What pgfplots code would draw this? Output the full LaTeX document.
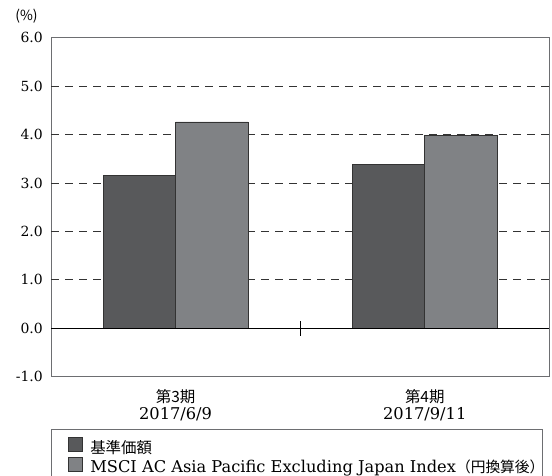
\documentclass[border=0pt]{standalone}
\usepackage{pgfplots}
\pgfplotsset{compat=1.18}
\usepackage{fontspec}
\setmainfont{DejaVu Serif}
\newfontfamily\jp{Noto Sans CJK JP}
\definecolor{darkbar}{HTML}{58595B}
\definecolor{lightbar}{HTML}{808285}
\definecolor{framegray}{HTML}{6D6E71}
\definecolor{edge}{HTML}{333333}
\begin{document}
\begin{tikzpicture}
\begin{axis}[
  clip=false,
  scale only axis, width=498.3bp, height=339bp,
  xmin=-0.5, xmax=1.5, ymin=-1, ymax=6,
  ybar=0pt, bar width=72.4bp,
  axis line style={framegray, line width=0.9bp},
  ytick={-1,0,1,2,3,4,5,6},
  /pgf/number format/fixed, /pgf/number format/fixed zerofill,
  /pgf/number format/precision=1, /pgf/number format/assume math mode=true,
  yticklabel style={font=\fontsize{14}{16}\selectfont, inner xsep=0pt, xshift=-8bp},
  xtick={0,1},
  xticklabels={{{\jp\fontsize{15.5}{17}\selectfont 第3期}\\2017/6/9},{{\jp\fontsize{15.5}{17}\selectfont 第4期}\\2017/9/11}},
  xticklabel style={align=center, font=\fontsize{16.3}{17}\selectfont, yshift=-9bp},
  major tick length=0pt,
  tick style={draw=none},
  extra y ticks={1,2,3,4,5},
  extra y tick labels={},
  extra y tick style={grid=major, major grid style={dash pattern=on 8bp off 6bp, color=black!80, line width=0.7bp}},
  legend style={at={(0,0)}, anchor=north west, yshift=-52.6bp, draw=framegray, line width=0.8bp,
    font=\fontsize{16.3}{18}\selectfont, inner xsep=16.3bp, inner ysep=7.5bp, row sep=0bp,
    nodes={inner xsep=0bp, inner ysep=0bp, text height=11.5bp, text depth=4bp},
    /tikz/every odd column/.append style={column sep=7.3bp}},
  legend cell align=left,
  legend image code/.code={\draw[#1, line width=0.8bp] (0bp,-2.3bp) rectangle (14.5bp,11.7bp);},
]
\addplot[fill=darkbar, draw=edge, line width=0.8bp] coordinates {(0,3.15) (1,3.39)};
\addlegendentry{\makebox[436bp][l]{\jp\fontsize{15.5}{16}\selectfont 基準価額}}
\addplot[fill=lightbar, draw=edge, line width=0.8bp] coordinates {(0,4.26) (1,3.99)};
\addlegendentry{\makebox[436bp][l]{MSCI AC Asia Pacific Excluding Japan Index{\jp\fontsize{14.8}{16}\selectfont （円換算後）}}}
\draw[black, line width=0.8bp] (axis cs:-0.5,0) -- (axis cs:1.5,0);
\draw[black, line width=0.8bp] ([yshift=-7.5bp]axis cs:0.5,0) -- ([yshift=7.5bp]axis cs:0.5,0);
\node[font=\jp\fontsize{14}{15}\selectfont] at ([xshift=-24.5bp,yshift=21.7bp]rel axis cs:0,1) {(\%)};
\end{axis}
\pgfresetboundingbox
\useasboundingbox ([xshift=-51bp,yshift=-99.3bp]current axis.south west) rectangle ([xshift=2.7bp,yshift=37.7bp]current axis.north east);
\end{tikzpicture}
\end{document}
